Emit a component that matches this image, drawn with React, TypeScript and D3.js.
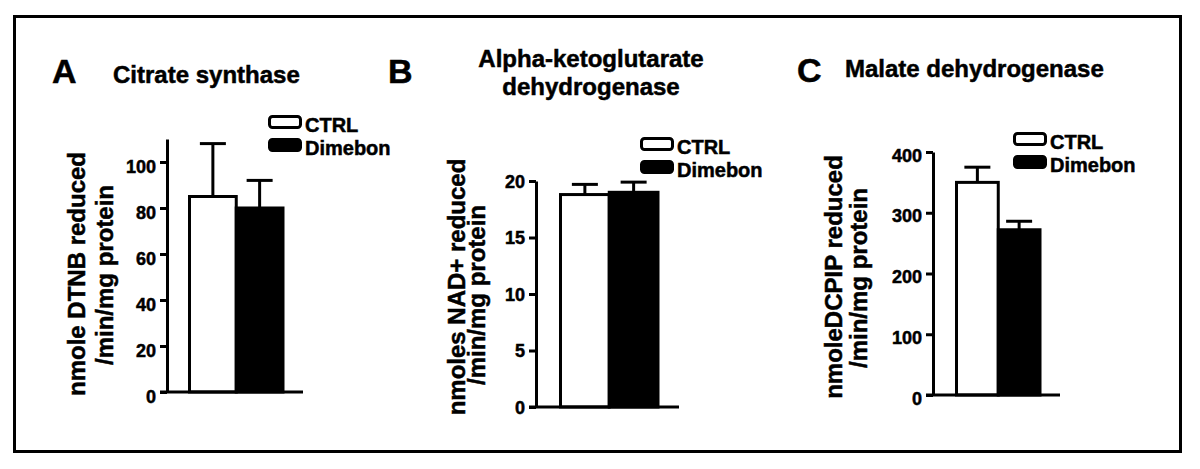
import React, { useEffect, useRef } from 'react';
import * as d3 from 'd3';

const categories = ['CTRL', 'Dimebon'];
const panelLetters = ['A', 'B', 'C'];
const titles = [['Citrate synthase'], ['Alpha-ketoglutarate', 'dehydrogenase'], ['Malate dehydrogenase']];
const yLabels = [
  ['nmole DTNB reduced', '/min/mg protein'],
  ['nmoles NAD+ reduced', '/min/mg protein'],
  ['nmoleDCPIP reduced', '/min/mg protein'],
];
const ctrlMeans = [85, 18.8, 350];
const ctrlErrors = [23, 0.9, 25];
const dimebonMeans = [80, 19.0, 272];
const dimebonErrors = [12, 0.9, 14];
const yTicks = [[0, 20, 40, 60, 80, 100], [0, 5, 10, 15, 20], [0, 100, 200, 300, 400]];
const yMax = [110, 20, 400];

// pixel layout of each panel
const layouts = [
  { axisX: 167, y0: 392, yTop: 139, xEnd: 303, band: [189.5, 283], letter: [52, 83], title: [113, 83], anchor: 'start',
    ylab: [[85, 274], [113, 275]], legend: [268, 115], labelDy: 4 },
  { axisX: 536, y0: 407, yTop: 181, xEnd: 679, band: [560.5, 658], letter: [388, 83], title: [591, 67], anchor: 'middle',
    ylab: [[465, 287], [485, 295]], legend: [640, 137], labelDy: 0 },
  { axisX: 933, y0: 395, yTop: 152, xEnd: 1060, band: [956.5, 1040], letter: [797, 82], title: [845, 77], anchor: 'start',
    ylab: [[842, 277], [867, 278]], legend: [1013, 132], labelDy: 3 },
];

const FONT = '"Liberation Sans", Arial, sans-serif';

const App = () => {
  const svgRef = useRef(null);

  useEffect(() => {
    document.body.style.margin = '0';
    const svg = d3.select(svgRef.current);
    svg.selectAll('*').remove();

    svg.append('rect')
      .attr('x', 14.5).attr('y', 16.5)
      .attr('width', 1166).attr('height', 435)
      .attr('fill', 'none').attr('stroke', '#000').attr('stroke-width', 3);

    layouts.forEach((L, p) => {
      const g = svg.append('g')
        .attr('font-family', FONT)
        .attr('font-weight', 'bold');

      const y = d3.scaleLinear().domain([0, yMax[p]]).range([L.y0, L.yTop]);
      const x = d3.scaleBand().domain(categories).range(L.band).padding(0);
      const means = [ctrlMeans[p], dimebonMeans[p]];
      const errs = [ctrlErrors[p], dimebonErrors[p]];

      // heavier text, like the scanned figure
      const txt = (sel) => sel.attr('fill', '#000').attr('stroke', '#000').attr('stroke-width', 0.5);

      // panel letter and title
      g.append('text').attr('x', L.letter[0]).attr('y', L.letter[1])
        .attr('font-size', 34).call(txt).text(panelLetters[p]);
      titles[p].forEach((t, i) => {
        g.append('text').attr('x', L.title[0]).attr('y', L.title[1] + i * 28)
          .attr('text-anchor', L.anchor).attr('font-size', 24).call(txt).text(t);
      });

      // y label
      yLabels[p].forEach((t, i) => {
        g.append('text')
          .attr('transform', `translate(${L.ylab[i][0]},${L.ylab[i][1]}) rotate(-90)`)
          .attr('text-anchor', 'middle').attr('font-size', 24).call(txt).text(t);
      });

      // error bars
      categories.forEach((c, i) => {
        const cx = x(c) + x.bandwidth() / 2;
        g.append('line').attr('x1', cx).attr('x2', cx)
          .attr('y1', y(means[i])).attr('y2', y(means[i] + errs[i]))
          .attr('stroke', '#000').attr('stroke-width', 3);
        g.append('line').attr('x1', cx - 13).attr('x2', cx + 13)
          .attr('y1', y(means[i] + errs[i])).attr('y2', y(means[i] + errs[i]))
          .attr('stroke', '#000').attr('stroke-width', 3);
      });

      // bars
      g.selectAll('.bar')
        .data(categories)
        .enter().append('rect')
        .attr('x', d => x(d))
        .attr('y', (d, i) => y(means[i]))
        .attr('width', x.bandwidth())
        .attr('height', (d, i) => L.y0 - y(means[i]))
        .attr('fill', (d, i) => (i === 0 ? '#fff' : '#000'))
        .attr('stroke', '#000')
        .attr('stroke-width', 3);

      // axes
      const axis = g.append('g')
        .attr('transform', `translate(${L.axisX},0)`)
        .call(d3.axisLeft(y).tickValues(yTicks[p]).tickSize(7).tickSizeOuter(0).tickPadding(4));
      axis.attr('font-family', null).attr('font-size', null);
      axis.select('.domain').attr('stroke-width', 3).attr('stroke', '#000');
      axis.selectAll('.tick line').attr('stroke-width', 3).attr('stroke', '#000');
      axis.selectAll('.tick text')
        .attr('font-family', FONT).attr('font-weight', 'bold').attr('font-size', 18)
        .call(txt)
        .attr('dy', null)
        .attr('y', L.labelDy)
        .attr('dominant-baseline', 'central');

      g.append('line')
        .attr('x1', L.axisX - 7).attr('x2', L.xEnd)
        .attr('y1', L.y0).attr('y2', L.y0)
        .attr('stroke', '#000').attr('stroke-width', 3);

      // legend
      categories.forEach((c, i) => {
        const ly = L.legend[1] + i * 23;
        g.append('rect')
          .attr('x', L.legend[0] + 1.5).attr('y', ly + 1.5)
          .attr('width', 31).attr('height', 11).attr('rx', 3)
          .attr('fill', i === 0 ? '#fff' : '#000')
          .attr('stroke', '#000').attr('stroke-width', 3);
        g.append('text')
          .attr('x', L.legend[0] + 37).attr('y', ly + 17)
          .attr('font-size', 20).call(txt).text(c);
      });
    });
  }, []);

  return <svg ref={svgRef} width={1200} height={469} style={{ display: 'block', background: '#fff' }}></svg>;
};

export default App;
